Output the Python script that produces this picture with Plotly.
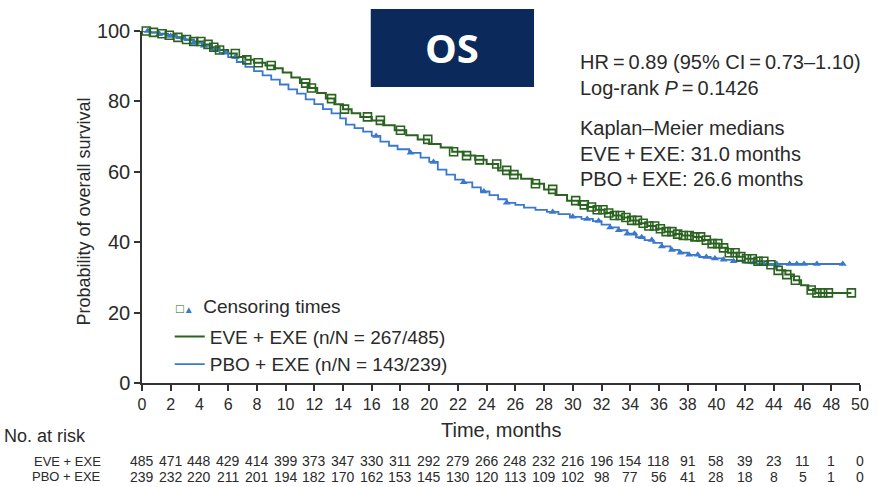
import numpy as np
import plotly.graph_objects as go

# Kaplan-Meier step estimates (months, % surviving)
eve_t = [0, 0.6, 1.2, 1.8, 2.4, 3.0, 3.6, 4.2, 4.8, 5.4, 6.0, 6.6, 7.2, 7.8, 8.6, 9.2, 9.8,
         10.4, 11.0, 11.6, 12.2, 12.8, 13.4, 14.0, 14.6, 15.2, 16.0, 16.8, 17.6, 18.4, 19.2,
         20.0, 20.8, 21.6, 22.4, 23.2, 24.0, 24.8, 25.6, 26.4, 27.2, 28.0, 28.8, 29.6, 30.4,
         31.0, 31.6, 32.2, 32.8, 33.4, 34.0, 34.6, 35.2, 35.8, 36.4, 37.0, 37.6, 38.4, 39.0,
         39.6, 40.2, 40.8, 41.4, 42.0, 42.8, 43.6, 44.2, 44.8, 45.4, 45.9, 46.4, 46.9, 49.4]
eve_s = [100, 99.6, 99.2, 98.8, 98.2, 97.6, 97.0, 96.2, 95.4, 94.6, 93.6, 92.6, 91.8, 91.0, 90.2,
         89.4, 88.2, 86.8, 85.2, 83.8, 82.4, 80.8, 79.2, 77.8, 76.6, 75.6, 74.6, 73.2, 71.8, 70.4,
         69.2, 67.9, 66.9, 65.7, 64.6, 63.4, 62.2, 60.4, 59.2, 58.0, 56.6, 55.0, 53.4, 51.8, 50.6,
         50.0, 49.2, 48.3, 47.6, 47.0, 46.2, 45.4, 44.6, 43.8, 43.0, 42.3, 41.9, 41.5, 40.6, 39.6,
         38.4, 37.0, 35.9, 35.3, 34.6, 33.6, 32.0, 30.8, 29.2, 27.8, 26.4, 25.6, 25.6]

pbo_t = [0, 0.6, 1.2, 1.8, 2.4, 3.0, 3.6, 4.2, 4.8, 5.4, 6.0, 6.6, 7.2, 7.8, 8.4, 9.0, 9.6,
         10.2, 10.8, 11.4, 12.0, 12.6, 13.2, 13.8, 14.2, 14.8, 15.4, 16.0, 16.6, 17.2, 17.8,
         18.6, 19.4, 20.0, 20.6, 21.2, 21.8, 22.4, 23.0, 23.6, 24.2, 24.8, 25.4, 26.0, 26.6,
         27.4, 28.2, 29.0, 29.8, 30.6, 31.4, 32.0, 32.6, 33.2, 33.8, 34.4, 35.0, 35.6, 36.2,
         36.8, 37.4, 38.0, 38.8, 39.6, 40.4, 41.2, 42.0, 42.8, 48.8]
pbo_s = [100, 99.6, 99.1, 98.6, 98.0, 97.4, 96.6, 95.8, 94.8, 93.8, 92.6, 91.2, 89.8, 88.6, 87.4,
         86.2, 84.8, 83.4, 82.2, 80.6, 79.2, 77.8, 76.6, 75.2, 73.4, 72.4, 71.4, 70.2, 68.6, 67.4,
         66.4, 65.4, 64.0, 62.8, 60.6, 59.2, 57.8, 57.0, 55.6, 54.4, 53.4, 52.2, 51.2, 50.6, 49.8,
         49.2, 48.6, 48.0, 47.2, 46.6, 46.0, 45.0, 44.2, 43.4, 42.4, 41.4, 40.6, 39.8, 38.8,
         37.8, 37.0, 36.4, 35.8, 35.4, 35.0, 34.6, 34.2, 33.8, 33.8]

# Censoring times (months)
eve_censor = [0.3, 0.8, 1.4, 1.9, 2.5, 3.1, 3.6, 4.1, 4.6, 5.0, 5.4, 6.5, 7.3, 8.1, 9.0, 11.4,
              11.8, 13.2, 14.1, 15.7, 16.6, 18.0, 19.9, 21.7, 22.6, 23.5, 24.7, 25.4, 25.9,
              27.4, 28.6, 30.2, 30.8, 31.3, 31.7, 32.1, 32.5, 32.9, 33.3, 33.7, 34.1, 34.5,
              34.9, 35.3, 35.7, 36.1, 36.5, 36.9, 37.3, 37.7, 38.1, 38.5, 38.9, 39.3, 39.7,
              40.1, 40.5, 40.9, 41.3, 41.7, 42.1, 42.5, 42.9, 43.3, 43.8, 44.3, 44.9, 45.5,
              46.6, 47.0, 47.4, 47.8, 49.4]
pbo_censor = [0.4, 1.2, 2.0, 2.9, 3.6, 4.3, 5.1, 5.8, 6.5, 16.3, 18.7, 20.3, 22.4, 23.8, 25.4,
              28.6, 30.0, 31.0, 31.8, 32.6, 33.2, 33.8, 34.3, 34.8, 35.5, 36.2, 36.9, 37.5,
              38.1, 38.7, 39.3, 39.9, 40.5, 41.2, 42.6, 43.3, 44.2, 45.1, 45.6, 46.1, 47.0, 48.8]

# Numbers at risk
risk_months = list(range(0, 51, 2))
eve_risk = [485, 471, 448, 429, 414, 399, 373, 347, 330, 311, 292, 279, 266, 248, 232, 216,
            196, 154, 118, 91, 58, 39, 23, 11, 1, 0]
pbo_risk = [239, 232, 220, 211, 201, 194, 182, 170, 162, 153, 145, 130, 120, 113, 109, 102,
            98, 77, 56, 41, 28, 18, 8, 5, 1, 0]

GREEN = "#2a6320"
BLUE = "#3a78cf"
TXT = "#2a2a2a"
FONT = "Liberation Sans, Arial, sans-serif"


def step_value(t, times, surv):
    idx = np.searchsorted(np.asarray(times), np.asarray(t), side="right") - 1
    return np.asarray(surv)[idx]


fig = go.Figure()

fig.add_trace(go.Scatter(
    x=eve_t, y=eve_s, mode="lines", line=dict(color=GREEN, width=2, shape="hv"),
    name="EVE + EXE (n/N = 267/485)", cliponaxis=False))
fig.add_trace(go.Scatter(
    x=pbo_t, y=pbo_s, mode="lines", line=dict(color=BLUE, width=1.8, shape="hv"),
    name="PBO + EXE (n/N = 143/239)", cliponaxis=False))

fig.add_trace(go.Scatter(
    x=pbo_censor, y=step_value(pbo_censor, pbo_t, pbo_s), mode="markers",
    marker=dict(symbol="triangle-up", size=7, color=BLUE),
    showlegend=False, cliponaxis=False))
fig.add_trace(go.Scatter(
    x=eve_censor, y=step_value(eve_censor, eve_t, eve_s), mode="markers",
    marker=dict(symbol="square-open", size=8, color=GREEN, line=dict(width=1.6)),
    showlegend=False, cliponaxis=False))

axis_style = dict(showline=True, linecolor="#333", linewidth=1.5, ticks="outside",
                  ticklen=6, tickwidth=1.5, tickcolor="#333", showgrid=False,
                  zeroline=False)

fig.update_xaxes(range=[0, 50], tickvals=risk_months,
                 tickfont=dict(size=16, color=TXT, family=FONT), **axis_style)
fig.update_yaxes(range=[0, 100], tickvals=[0, 20, 40, 60, 80, 100],
                 tickfont=dict(size=20, color=TXT, family=FONT), **axis_style)


def note(text, x, y, size, xref="paper", xanchor="center", **kw):
    return dict(text=text, x=x, y=y, xref=xref, yref="paper", xanchor=xanchor,
                yanchor="middle", showarrow=False,
                font=dict(size=size, color=kw.pop("color", TXT),
                          family=kw.pop("family", FONT)), **kw)


annotations = []
# Axis titles
annotations.append(note("Probability of overall survival", -0.0814, 0.486, 18, textangle=-90))
annotations.append(note("Time, months", 0.5, -0.134, 20))
annotations.append(note("No. at risk", -0.1945, -0.151, 18, xanchor="left"))

# Risk table
for label, counts, yp in (("EVE + EXE", eve_risk, -0.222), ("PBO + EXE", pbo_risk, -0.267)):
    annotations.append(note(label, -0.054, yp, 13, xanchor="right"))
    for m, n in zip(risk_months, counts):
        annotations.append(note(str(n), m, yp, 14, xref="x"))

# Statistics block
stats = [("HR\u2009=\u20090.89 (95% CI\u2009=\u20090.73\u20131.10)", 0.912),
         ("Log-rank <i>P</i>\u2009=\u20090.1426", 0.838),
         ("Kaplan\u2013Meier medians", 0.724),
         ("EVE\u2009+\u2009EXE: 31.0 months", 0.651),
         ("PBO\u2009+\u2009EXE: 26.6 months", 0.580)]
for txt, yp in stats:
    annotations.append(note(txt, 0.607, yp, 20, xanchor="left"))

# Censoring key
annotations.append(note(
    (f"<span style='color:{GREEN};font-size:13px'>\u25a1</span>"
     f"<span style='color:{BLUE};font-size:10px'>\u25b2</span>\u2002Censoring times"),
    0.044, 0.216, 19, xanchor="left"))

# Title badge
annotations.append(note("<b>OS</b>", 0.4317, 0.952, 40, color="white",
                        family="Open Sans, sans-serif"))

fig.update_layout(
    width=881, height=487,
    margin=dict(l=142, r=14, t=31, b=104),
    paper_bgcolor="white", plot_bgcolor="white",
    font=dict(family=FONT, color=TXT),
    shapes=[dict(type="rect", xref="paper", yref="paper", x0=0.3186, x1=0.546,
                 y0=0.841, y1=1.0625, fillcolor="#0b2a5b", line=dict(width=0), layer="below")],
    annotations=annotations,
    legend=dict(x=0.0386, y=0.186, xanchor="left", yanchor="top",
                bgcolor="rgba(0,0,0,0)", font=dict(size=19, color=TXT, family=FONT),
                tracegroupgap=0),
)

fig.write_html("out.html")
